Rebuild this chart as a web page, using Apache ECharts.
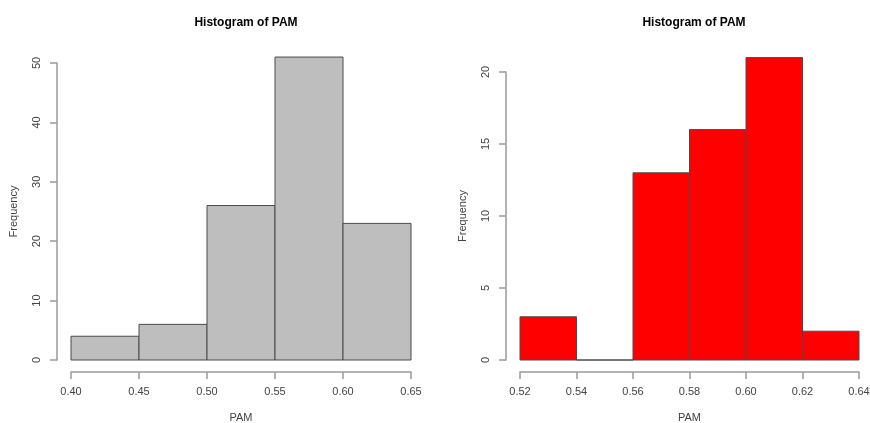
<!DOCTYPE html>
<html>
<head>
<meta charset="utf-8">
<title>Histogram of PAM</title>
<script src="https://cdn.jsdelivr.net/npm/echarts@6/dist/echarts.min.js"></script>
<style>
  html, body { margin: 0; padding: 0; background: #fff; }
  #main { width: 870px; height: 423px; }
</style>
</head>
<body>
<div id="main"></div>
<script>
// bins of the left histogram (grey)
var leftEdges = [0.40, 0.45, 0.50, 0.55, 0.60, 0.65];
var leftCounts = [4, 6, 26, 51, 23];
// bins of the right histogram (red)
var rightEdges = [0.52, 0.54, 0.56, 0.58, 0.60, 0.62, 0.64];
var rightCounts = [3, 0, 13, 16, 21, 2];

var titleText = 'Histogram of PAM';
var xName = 'PAM';
var yName = 'Frequency';

function toBins(edges, counts) {
	var out = [];
	for (var i = 0; i < counts.length; i++) {
		out.push([edges[i], edges[i + 1], counts[i]]);
	}
	return out;
}

// one rectangle per bin, placed through the axes
function renderBin(params, api) {
	var p0 = api.coord([api.value(0), api.value(2)]);
	var p1 = api.coord([api.value(1), 0]);
	return {
		type: 'rect',
		shape: { x: p0[0], y: p0[1], width: p1[0] - p0[0], height: p1[1] - p0[1] },
		style: api.style()
	};
}

var font = 'Liberation Sans, Arial, sans-serif';
var axisGrey = '#9a9a9a';
var labelColor = '#444';

function xAxisOf(idx, min, max, step) {
	return {
		type: 'value', gridIndex: idx, min: min, max: max, interval: step,
		offset: 12,
		name: xName, nameLocation: 'middle', nameGap: 40,
		nameTextStyle: { fontFamily: font, fontSize: 11, color: labelColor },
		axisLine: { show: true, onZero: false, lineStyle: { color: axisGrey, width: 1.5 } },
		axisTick: { show: true, length: 7, lineStyle: { color: axisGrey, width: 1.5 } },
		axisLabel: { fontFamily: font, fontSize: 11, color: labelColor, margin: 14,
			formatter: function (v) { return v.toFixed(2); } },
		splitLine: { show: false }
	};
}

function yAxisOf(idx, max, step) {
	return {
		type: 'value', gridIndex: idx, min: 0, max: max, interval: step,
		offset: 14,
		name: yName, nameLocation: 'middle', nameGap: 38, nameRotate: 90,
		nameTextStyle: { fontFamily: font, fontSize: 11, color: labelColor },
		axisLine: { show: true, onZero: false, lineStyle: { color: axisGrey, width: 1.5 } },
		axisTick: { show: true, length: 7, lineStyle: { color: axisGrey, width: 1.5 } },
		axisLabel: { fontFamily: font, fontSize: 11, color: labelColor, rotate: 90, margin: 15 },
		splitLine: { show: false }
	};
}

var myChart = echarts.init(document.getElementById('main'));
var option = {
	animation: false,
	backgroundColor: '#fff',
	title: [
		{ text: titleText, left: 241, top: 12, textAlign: 'center',
			textStyle: { fontFamily: font, fontSize: 12, fontWeight: 'bold', color: '#000' } },
		{ text: titleText, left: 689, top: 12, textAlign: 'center',
			textStyle: { fontFamily: font, fontSize: 12, fontWeight: 'bold', color: '#000' } }
	],
	grid: [
		{ left: 71, right: 459, top: 63, bottom: 63, outerBoundsMode: 'none', containLabel: false },
		{ left: 520, right: 11, top: 72, bottom: 63, outerBoundsMode: 'none', containLabel: false }
	],
	xAxis: [
		xAxisOf(0, 0.40, 0.65, 0.05),
		xAxisOf(1, 0.52, 0.64, 0.02)
	],
	yAxis: [
		yAxisOf(0, 50, 10),
		yAxisOf(1, 20, 5)
	],
	series: [
		{
			type: 'custom', xAxisIndex: 0, yAxisIndex: 0, clip: false,
			renderItem: renderBin,
			encode: { x: [0, 1], y: 2 },
			itemStyle: { color: '#bebebe', borderColor: '#4a4a4a', borderWidth: 1 },
			data: toBins(leftEdges, leftCounts)
		},
		{
			type: 'custom', xAxisIndex: 1, yAxisIndex: 1, clip: false,
			renderItem: renderBin,
			encode: { x: [0, 1], y: 2 },
			itemStyle: { color: '#ff0000', borderColor: '#4a4a4a', borderWidth: 1 },
			data: toBins(rightEdges, rightCounts)
		}
	]
};
myChart.setOption(option);
window.onresize = myChart.resize;
</script>
</body>
</html>
